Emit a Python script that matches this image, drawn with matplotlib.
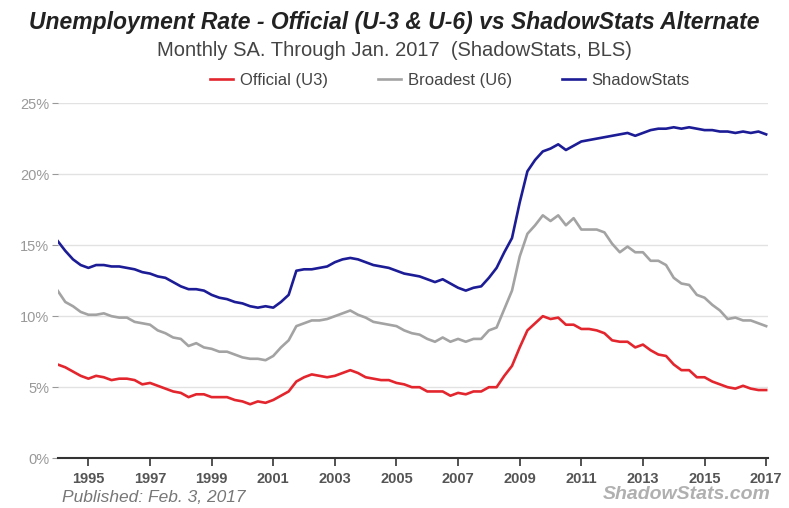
import numpy as np
import matplotlib.pyplot as plt

# quarterly readings (Jan, Apr, Jul, Oct), Jan 1994 .. Jan 2017
u3 = [6.6, 6.4, 6.1, 5.8, 5.6, 5.8, 5.7, 5.5, 5.6, 5.6, 5.5, 5.2,
      5.3, 5.1, 4.9, 4.7, 4.6, 4.3, 4.5, 4.5, 4.3, 4.3, 4.3, 4.1,
      4.0, 3.8, 4.0, 3.9, 4.1, 4.4, 4.7, 5.4, 5.7, 5.9, 5.8, 5.7,
      5.8, 6.0, 6.2, 6.0, 5.7, 5.6, 5.5, 5.5, 5.3, 5.2, 5.0, 5.0,
      4.7, 4.7, 4.7, 4.4, 4.6, 4.5, 4.7, 4.7, 5.0, 5.0, 5.8, 6.5,
      7.8, 9.0, 9.5, 10.0, 9.8, 9.9, 9.4, 9.4, 9.1, 9.1, 9.0, 8.8,
      8.3, 8.2, 8.2, 7.8, 8.0, 7.6, 7.3, 7.2, 6.6, 6.2, 6.2, 5.7,
      5.7, 5.4, 5.2, 5.0, 4.9, 5.1, 4.9, 4.8, 4.8]
u6 = [11.8, 11.0, 10.7, 10.3, 10.1, 10.1, 10.2, 10.0, 9.9, 9.9, 9.6, 9.5,
      9.4, 9.0, 8.8, 8.5, 8.4, 7.9, 8.1, 7.8, 7.7, 7.5, 7.5, 7.3,
      7.1, 7.0, 7.0, 6.9, 7.2, 7.8, 8.3, 9.3, 9.5, 9.7, 9.7, 9.8,
      10.0, 10.2, 10.4, 10.1, 9.9, 9.6, 9.5, 9.4, 9.3, 9.0, 8.8, 8.7,
      8.4, 8.2, 8.5, 8.2, 8.4, 8.2, 8.4, 8.4, 9.0, 9.2, 10.5, 11.8,
      14.2, 15.8, 16.4, 17.1, 16.7, 17.1, 16.4, 16.9, 16.1, 16.1, 16.1, 15.9,
      15.1, 14.5, 14.9, 14.5, 14.5, 13.9, 13.9, 13.6, 12.7, 12.3, 12.2, 11.5,
      11.3, 10.8, 10.4, 9.8, 9.9, 9.7, 9.7, 9.5, 9.3]
shadow = [15.3, 14.6, 14.0, 13.6, 13.4, 13.6, 13.6, 13.5, 13.5, 13.4, 13.3, 13.1,
          13.0, 12.8, 12.7, 12.4, 12.1, 11.9, 11.9, 11.8, 11.5, 11.3, 11.2, 11.0,
          10.9, 10.7, 10.6, 10.7, 10.6, 11.0, 11.5, 13.2, 13.3, 13.3, 13.4, 13.5,
          13.8, 14.0, 14.1, 14.0, 13.8, 13.6, 13.5, 13.4, 13.2, 13.0, 12.9, 12.8,
          12.6, 12.4, 12.6, 12.3, 12.0, 11.8, 12.0, 12.1, 12.7, 13.4, 14.5, 15.5,
          18.0, 20.2, 21.0, 21.6, 21.8, 22.1, 21.7, 22.0, 22.3, 22.4, 22.5, 22.6,
          22.7, 22.8, 22.9, 22.7, 22.9, 23.1, 23.2, 23.2, 23.3, 23.2, 23.3, 23.2,
          23.1, 23.1, 23.0, 23.0, 22.9, 23.0, 22.9, 23.0, 22.8]
years = 1994 + np.arange(len(u3)) * 0.25

xticks = list(range(1995, 2018, 2))
yticks = [0, 5, 10, 15, 20, 25]

plt.rcParams['font.family'] = ['Liberation Sans', 'DejaVu Sans']

fig = plt.figure(figsize=(7.89, 5.08), dpi=100)
ax = fig.add_axes([0.073, 0.098, 0.900, 0.699])

ax.plot(years, u3, color='#e3262e', lw=1.9, label='Official (U3)')
ax.plot(years, u6, color='#a3a3a3', lw=1.9, label='Broadest (U6)')
ax.plot(years, shadow, color='#1c1c96', lw=1.9, label='ShadowStats')

ax.set_xlim(1994.0, 2017.05)
ax.set_ylim(0, 25)
ax.set_yticks(yticks, [f'{v}%' for v in yticks])
ax.set_xticks(xticks, [str(x) for x in xticks])
ax.grid(axis='y', color='#e2e2e2', lw=1)
ax.set_axisbelow(True)
for s in ['top', 'right', 'left']:
    ax.spines[s].set_visible(False)
ax.spines['bottom'].set_color('#333333')
ax.spines['bottom'].set_linewidth(1.5)
ax.tick_params(axis='y', colors='#999999', labelsize=10.5, length=4, pad=2)
ax.tick_params(axis='x', colors='#333333', length=6, width=1.2, pad=4)
for t in ax.get_xticklabels():
    t.set_fontweight('bold')
    t.set_color('#555555')
    t.set_fontsize(10.5)

fig.text(0.5, 0.955, 'Unemployment Rate - Official (U-3 & U-6) vs ShadowStats Alternate',
         ha='center', va='center', fontsize=16.5, fontweight='bold', style='italic', color='#222222')
fig.text(0.5, 0.9, 'Monthly SA. Through Jan. 2017  (ShadowStats, BLS)',
         ha='center', va='center', fontsize=14.5, color='#444444')
fig.legend(loc='center', bbox_to_anchor=(0.57, 0.842), ncol=3, frameon=False,
           fontsize=12, handlelength=1.4, handletextpad=0.4, columnspacing=3.0,
           labelcolor='#444444')

fig.text(0.079, 0.02, 'Published: Feb. 3, 2017', ha='left', va='center',
         fontsize=12.5, style='italic', color='#777777')
fig.text(0.977, 0.027, 'ShadowStats.com', ha='right', va='center',
         fontsize=14, style='italic', fontweight='bold', color='#b0b0b0')

fig.savefig('out.png', dpi=100)
